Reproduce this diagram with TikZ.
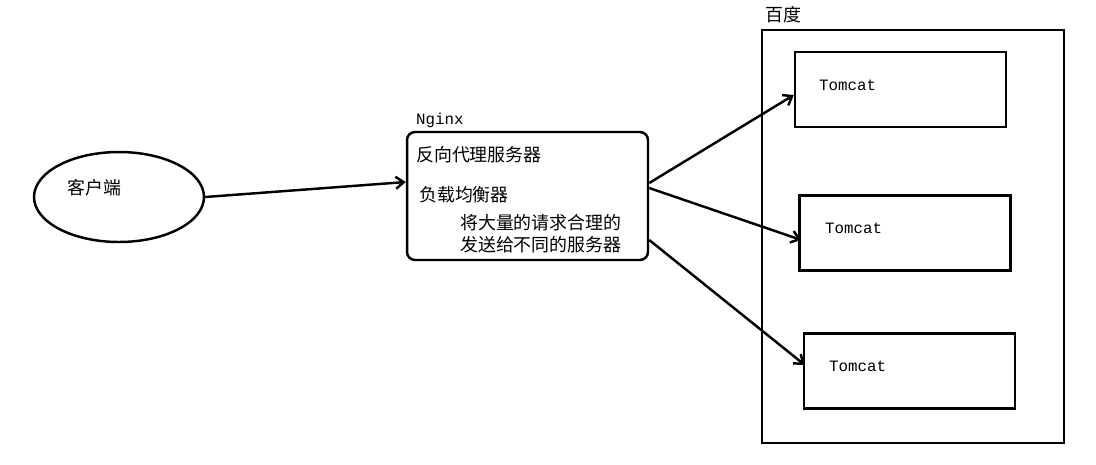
\documentclass[tikz,border=0pt]{standalone}
\usepackage{fontspec}
\setmonofont{Liberation Mono}
\newfontfamily\cjk{Noto Sans CJK SC}
\usetikzlibrary{arrows.meta,shapes.geometric}

\begin{document}
\begin{tikzpicture}[x=0.02cm, y=-0.02cm, line width=1.4pt,
  tbox/.style={draw, minimum width=4.22cm, minimum height=1.5cm, inner sep=0pt},
  zh/.style={font=\cjk\fontsize{10.2}{12}\selectfont, anchor=west, inner sep=0pt},
  en/.style={font=\ttfamily\fontsize{9}{11}\selectfont, anchor=west, inner sep=0pt},
  >={Straight Barb[length=1.6mm,width=2.4mm]}]
\useasboundingbox (0,0) rectangle (1096,464);
% client
\node[draw, ellipse, minimum width=3.4cm, minimum height=1.8cm, inner sep=0pt] (client) at (119,197) {};
\node[zh] (clienttext) at (66,188) {客户端};
% proxy
\node[draw, rounded corners=0.16cm, minimum width=4.82cm, minimum height=2.56cm, inner sep=0pt] (nginx) at (527.5,196) {};
\node[en] (nginxlabel) at (415,120) {Nginx};
\node[zh] (proxy) at (415,155) {反向代理服务器};
\node[zh] (balancer) at (418,195) {负载均衡器};
\node[zh] (noteA) at (459,223) {将大量的请求合理的};
\node[zh] (noteB) at (459,245) {发送给不同的服务器};
% servers
\node[draw, minimum width=6.04cm, minimum height=8.26cm, inner sep=0pt] (baidu) at (913,236.5) {};
\node[zh] (baidulabel) at (764,15) {百度};
\node[tbox] (tomcatA) at (900.5,89.5) {};
\node[tbox] (tomcatB) at (905,233) {};
\node[tbox] (tomcatC) at (909.5,371) {};
\node[en] at (818,85) {Tomcat};
\node[en] at (824,228) {Tomcat};
\node[en] at (828,366) {Tomcat};
% arrows
\draw[->] (client.east) -- ([yshift=0.28cm]nginx.west);
\draw[->] ([yshift=0.26cm]nginx.east) -- ([yshift=-0.11cm]tomcatA.west);
\draw[->] ([yshift=0.16cm]nginx.east) -- ([xshift=0.06cm,yshift=-0.14cm]tomcatB.west);
\draw[->] ([yshift=-0.88cm]nginx.east) -- ([xshift=0.04cm,yshift=0.12cm]tomcatC.west);
\end{tikzpicture}
\end{document}
